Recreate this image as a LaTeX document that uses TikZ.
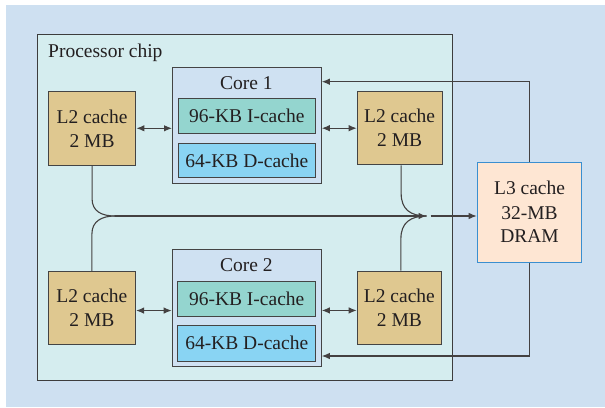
\documentclass[tikz,border=0pt]{standalone}
\usepackage{fontspec}
\setmainfont{Liberation Serif}
\usetikzlibrary{arrows.meta,calc}
\definecolor{bgblue}{HTML}{CEE0F1}
\definecolor{chipfill}{HTML}{D5EDEF}
\definecolor{corefill}{HTML}{CFE1F2}
\definecolor{ifill}{HTML}{94D5CF}
\definecolor{dfill}{HTML}{89D4F3}
\definecolor{ltwofill}{HTML}{DFC890}
\definecolor{lthreefill}{HTML}{FEE6D3}
\definecolor{lthreeborder}{HTML}{3A8FD0}
\definecolor{ink}{HTML}{231F20}
\definecolor{edge}{HTML}{444444}
\tikzset{
  box/.style={draw=edge,line width=1.1pt,inner sep=0pt,anchor=north west,align=center,
    font=\fontsize{19.5pt}{24pt}\selectfont,text=ink},
  chipbox/.style={box,fill=chipfill,line width=1pt,draw=edge!90!black},
  corebox/.style={box,fill=corefill},
  ibox/.style={box,fill=ifill},
  dbox/.style={box,fill=dfill},
  ltwobox/.style={box,fill=ltwofill},
  lthreebox/.style={box,fill=lthreefill,draw=lthreeborder},
  lbl/.style={inner sep=0pt,font=\fontsize{19.5pt}{24pt}\selectfont,text=ink},
  conn/.style={draw=ink!85,line width=1.1pt},
  arr/.style={conn,-{Latex[length=8pt,width=6.5pt]}},
  dblarr/.style={conn,{Latex[length=8pt,width=6.5pt]}-{Latex[length=8pt,width=6.5pt]}},
}
\begin{document}
\begin{tikzpicture}[x=1pt,y=-1pt]
\useasboundingbox (0,0) rectangle (605,407);
\fill[bgblue] (6,5) rectangle (605,407);
% processor chip
\node[chipbox,minimum width=414.7pt,minimum height=345.2pt] (chip) at (37,34.3) {};
\node[lbl,anchor=base west] (chiplbl) at (48,57) {Processor chip};
% core 1
\node[corebox,minimum width=148.7pt,minimum height=116pt] (core1) at (172,67.3) {};
\node[lbl,anchor=base] (core1lbl) at (246.3,89) {Core 1};
\node[ibox,minimum width=137.5pt,minimum height=35.3pt] (i1) at (177.5,98) {96-KB I-cache};
\node[dbox,minimum width=137.5pt,minimum height=34.8pt] (d1) at (177.5,142.5) {64-KB D-cache};
% core 2
\node[corebox,minimum width=149pt,minimum height=116.7pt] (core2) at (171.7,249.3) {};
\node[lbl,anchor=base] (core2lbl) at (246.3,271.7) {Core 2};
\node[ibox,minimum width=137.7pt,minimum height=35.3pt] (i2) at (177.3,280.7) {96-KB I-cache};
\node[dbox,minimum width=137.7pt,minimum height=35.5pt] (d2) at (177.3,325) {64-KB D-cache};
% L2 caches
\node[ltwobox,minimum width=87.6pt,minimum height=73.5pt] (l2tl) at (47.7,91) {L2 cache\\2 MB};
\node[ltwobox,minimum width=84.8pt,minimum height=73.3pt] (l2tr) at (356.7,91) {L2 cache\\2 MB};
\node[ltwobox,minimum width=87.3pt,minimum height=73.2pt] (l2bl) at (47.7,271) {L2 cache\\2 MB};
\node[ltwobox,minimum width=84.3pt,minimum height=73.6pt] (l2br) at (356.7,270.7) {L2 cache\\2 MB};
% L3
\node[lthreebox,minimum width=104.6pt,minimum height=100pt] (l3) at (476.7,161.7) {L3 cache\\32-MB\\DRAM};
% double arrows
\draw[dblarr] (l2tl.east) -- (l2tl.east -| core1.west);
\draw[dblarr] (core1.east |- l2tr.west) -- (l2tr.west);
\draw[dblarr] ([yshift=-2.4pt]l2bl.east) -- ([yshift=-2.4pt]l2bl.east -| core2.west);
\draw[dblarr] ([yshift=-2.4pt]core2.east |- l2br.west) -- ([yshift=-2.4pt]l2br.west);
% L3 to cores
\coordinate (t1) at (529.3,81.7);
\coordinate (t2) at (529.3,356);
\draw[arr] (l3.north -| t1) -- (t1) -- (t1 -| core1.east);
\draw[arr] (l3.south -| t2) -- (t2) -- (t2 -| core2.east);
% merge
\coordinate (mL) at (115,216);
\coordinate (mR) at (426.5,216);
\draw[conn] (l2tl.south) -- ++(0,33) .. controls +(0,13) and +(-13,0) .. (mL);
\draw[conn] (l2bl.north) -- ++(0,-37) .. controls +(0,-13) and +(-13,0) .. (mL);
\draw[conn] ([xshift=1.5pt]l2tr.south) -- ++(0,28) .. controls +(0,16) and +(-16,0) .. (mR);
\draw[conn] ([xshift=1.5pt]l2br.north) -- ++(0,-32) .. controls +(0,-16) and +(-16,0) .. (mR);
\draw[arr] (mL) -- (mR);
\draw[arr] ([xshift=4pt]mR) -- (l3.west |- mR);
\end{tikzpicture}
\end{document}
